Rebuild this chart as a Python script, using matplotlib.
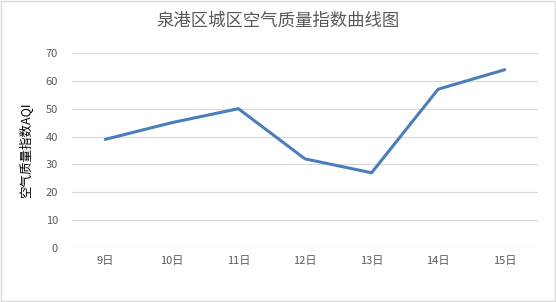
import matplotlib.pyplot as plt
from matplotlib.patches import Rectangle

plt.rcParams['font.family'] = ['Noto Sans CJK SC', 'DejaVu Sans']

days = ['9日', '10日', '11日', '12日', '13日', '14日', '15日']
aqi = [39, 45, 50, 32, 27, 57, 64]
yticks = [0, 10, 20, 30, 40, 50, 60, 70]

fig = plt.figure(figsize=(5.56, 3.02), dpi=100)
ax = fig.add_axes([0.1295, 0.1788, 0.8381, 0.6457])

ax.plot(range(len(days)), aqi, color='#4a7ebb', linewidth=2.2, solid_capstyle='round')

ax.set_xlim(-0.5, len(days) - 0.5)
ax.set_ylim(0, 70)
ax.set_yticks(yticks)
ax.set_xticks(range(len(days)))
ax.set_xticklabels(days)
ax.grid(axis='y', color='#d9d9d9', linewidth=0.9)
ax.set_axisbelow(True)
for s in ax.spines.values():
    s.set_visible(False)
ax.tick_params(length=0, labelsize=8, labelcolor='#595959')
ax.tick_params(axis='y', pad=10)
ax.tick_params(axis='x', pad=6)

ax.set_ylabel('空气质量指数AQI', fontsize=9, color='black', labelpad=9)
fig.text(0.5, 0.93, '泉港区城区空气质量指数曲线图', ha='center', va='center',
         fontsize=12.5, color='#595959')

fig.patches.append(Rectangle((0.001, 0.002), 0.997, 0.995, transform=fig.transFigure,
                             fill=False, edgecolor='#d9d9d9', linewidth=1))

fig.savefig('out.png', dpi=100)
